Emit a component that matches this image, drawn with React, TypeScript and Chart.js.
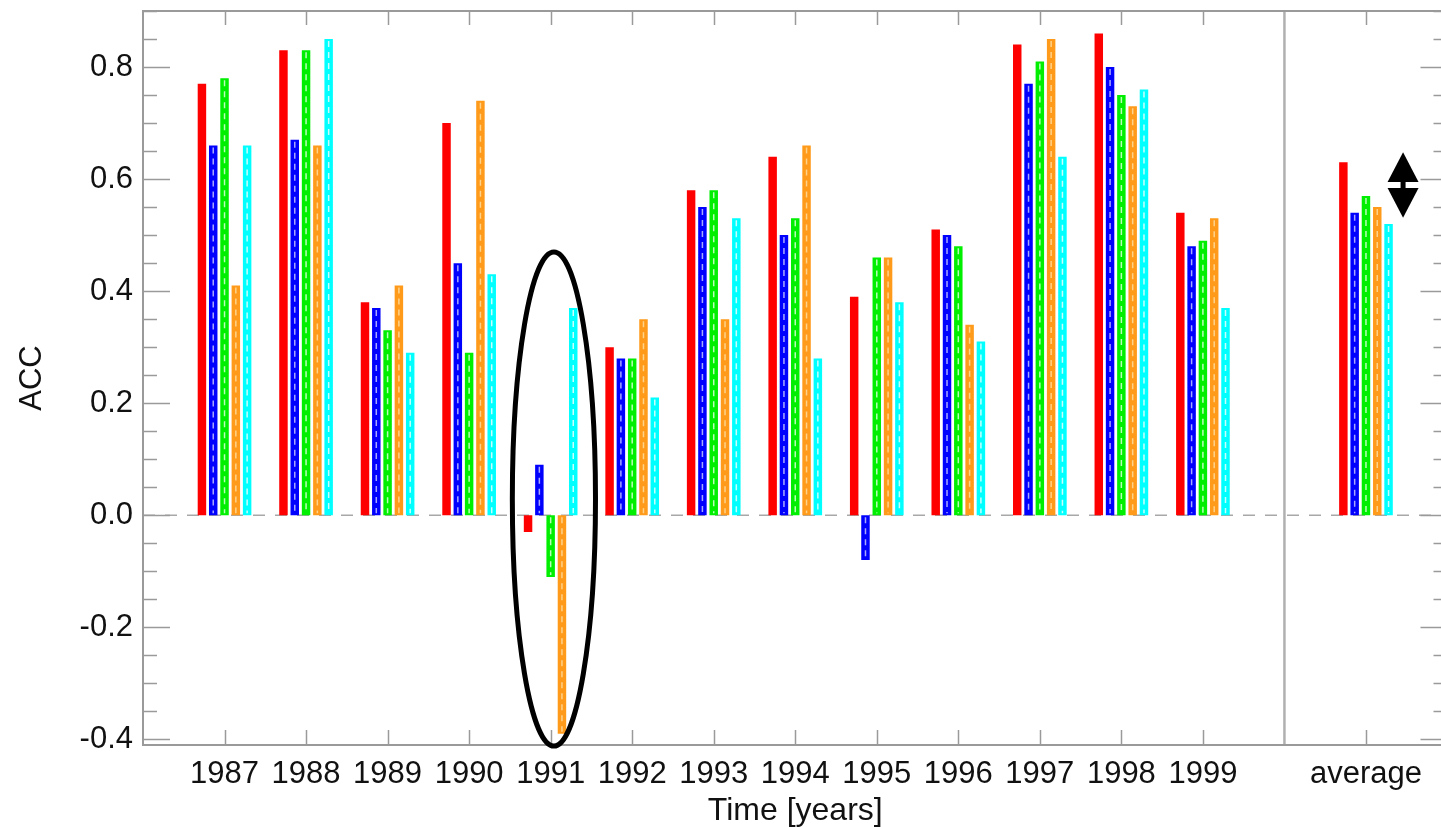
import React, { useEffect, useRef } from "react";
import { Chart, registerables } from "chart.js";

Chart.register(...registerables);

// ---- data ----
const CATEGORIES = ["", "1987", "1988", "1989", "1990", "1991", "1992", "1993", "1994", "1995", "1996", "1997", "1998", "1999", "", "average", ""];

const SERIES_RED = [null, 0.77, 0.83, 0.38, 0.70, -0.03, 0.30, 0.58, 0.64, 0.39, 0.51, 0.84, 0.86, 0.54, null, 0.63, null];
const SERIES_BLUE = [null, 0.66, 0.67, 0.37, 0.45, 0.09, 0.28, 0.55, 0.50, -0.08, 0.50, 0.77, 0.80, 0.48, null, 0.54, null];
const SERIES_GREEN = [null, 0.78, 0.83, 0.33, 0.29, -0.11, 0.28, 0.58, 0.53, 0.46, 0.48, 0.81, 0.75, 0.49, null, 0.57, null];
const SERIES_ORANGE = [null, 0.41, 0.66, 0.41, 0.74, -0.39, 0.35, 0.35, 0.66, 0.46, 0.34, 0.85, 0.73, 0.53, null, 0.55, null];
const SERIES_CYAN = [null, 0.66, 0.85, 0.29, 0.43, 0.37, 0.21, 0.53, 0.28, 0.38, 0.31, 0.64, 0.76, 0.37, null, 0.52, null];

const Y_TICKS = [-0.4, -0.2, 0.0, 0.2, 0.4, 0.6, 0.8];
const Y_MIN = -0.41;
const Y_MAX = 0.9;
const Y_MINOR_STEP = 0.05;

const SEPARATOR_INDEX = 14;
const X_TICK_INDICES = [1, 2, 3, 4, 5, 6, 7, 8, 9, 10, 11, 12, 13, 15];

// annotation (data coordinates)
const ELLIPSE_CENTER_X = 5.04;
const ELLIPSE_HALF_WIDTH = 0.51;
const ELLIPSE_TOP = 0.47;
const ELLIPSE_BOTTOM = -0.412;
const ARROW_X = 15.455;
const ARROW_HALF_WIDTH = 0.19;
const ARROW_UP = [0.648, 0.595];
const ARROW_DOWN = [0.584, 0.531];

// ---- styles ----
const COLORS = ["#ff0000", "#0000ff", "#00ee00", "#ff9a1a", "#00ffff"];
const INNER = [null, "#a8a8ff", "#b8ffb8", "#ffd28a", "#c8ffff"];
const AXIS_COLOR = "#9a9a9a";
const FONT = "'Liberation Sans', Arial, Helvetica, sans-serif";

const decorPlugin = {
  id: "decor",
  beforeDatasetsDraw(chart: any) {
    const { ctx, chartArea: a, scales } = chart;
    const x = scales.x;
    const y = scales.y;
    ctx.save();
    // zero dashed line
    ctx.strokeStyle = "#a8a8a8";
    ctx.lineWidth = 1.5;
    ctx.setLineDash([12, 10]);
    const y0 = y.getPixelForValue(0);
    ctx.beginPath();
    ctx.moveTo(a.left, y0);
    ctx.lineTo(a.right, y0);
    ctx.stroke();
    ctx.setLineDash([]);
    // separator
    const xs = x.getPixelForValue(SEPARATOR_INDEX);
    ctx.strokeStyle = "#b0b0b0";
    ctx.lineWidth = 2.5;
    ctx.beginPath();
    ctx.moveTo(xs, a.top);
    ctx.lineTo(xs, a.bottom);
    ctx.stroke();
    ctx.restore();
  },
  afterDatasetsDraw(chart: any) {
    const { ctx, chartArea: a, scales } = chart;
    const x = scales.x;
    const y = scales.y;
    ctx.save();
    // inner dashed lines in bars
    chart.data.datasets.forEach((ds: any, i: number) => {
      const c = INNER[i];
      if (!c) return;
      const meta = chart.getDatasetMeta(i);
      ctx.strokeStyle = c;
      ctx.lineWidth = 1.5;
      ctx.setLineDash([6, 5]);
      meta.data.forEach((el: any, j: number) => {
        if (ds.data[j] == null) return;
        const p = el.getProps(["x", "y", "base"], true);
        const top = Math.min(p.y, p.base) + 2;
        const bot = Math.max(p.y, p.base) - 2;
        if (bot - top < 3) return;
        ctx.beginPath();
        ctx.moveTo(p.x, top);
        ctx.lineTo(p.x, bot);
        ctx.stroke();
      });
    });
    ctx.setLineDash([]);

    // frame
    ctx.strokeStyle = AXIS_COLOR;
    ctx.lineWidth = 2;
    ctx.strokeRect(a.left, a.top, a.right - a.left, a.bottom - a.top);

    // y ticks (left & right)
    ctx.lineWidth = 1.5;
    const nMinor = Math.round((Y_MAX - Y_TICKS[0]) / Y_MINOR_STEP);
    for (let k = 0; k <= nMinor; k++) {
      const v = Y_TICKS[0] + k * Y_MINOR_STEP;
      const py = Math.round(y.getPixelForValue(v)) + 0.5;
      const major = Y_TICKS.some((t) => Math.abs(t - v) < 1e-6);
      const len = major ? 27 : 14;
      ctx.beginPath();
      ctx.moveTo(a.left, py);
      ctx.lineTo(a.left + len, py);
      ctx.moveTo(a.right, py);
      ctx.lineTo(a.right - len, py);
      ctx.stroke();
    }
    // x ticks (top & bottom)
    X_TICK_INDICES.forEach((i) => {
      const px = Math.round(x.getPixelForValue(i)) + 0.5;
      ctx.beginPath();
      ctx.moveTo(px, a.top);
      ctx.lineTo(px, a.top + 14);
      ctx.moveTo(px, a.bottom);
      ctx.lineTo(px, a.bottom - 15);
      ctx.stroke();
    });

    // ellipse annotation
    const cx = x.getPixelForValue(ELLIPSE_CENTER_X);
    const rx = x.getPixelForValue(ELLIPSE_CENTER_X + ELLIPSE_HALF_WIDTH) - cx;
    const yt = y.getPixelForValue(ELLIPSE_TOP);
    const yb = y.getPixelForValue(ELLIPSE_BOTTOM);
    ctx.strokeStyle = "#000";
    ctx.lineWidth = 5;
    ctx.beginPath();
    ctx.ellipse(cx, (yt + yb) / 2, rx, (yb - yt) / 2, 0, 0, Math.PI * 2);
    ctx.stroke();

    // double arrow annotation
    const ax = x.getPixelForValue(ARROW_X);
    const hw = x.getPixelForValue(ARROW_X + ARROW_HALF_WIDTH) - ax;
    const u0 = y.getPixelForValue(ARROW_UP[0]);
    const u1 = y.getPixelForValue(ARROW_UP[1]);
    const d0 = y.getPixelForValue(ARROW_DOWN[0]);
    const d1 = y.getPixelForValue(ARROW_DOWN[1]);
    ctx.fillStyle = "#000";
    ctx.beginPath();
    ctx.moveTo(ax, u0);
    ctx.lineTo(ax + hw, u1);
    ctx.lineTo(ax - hw, u1);
    ctx.closePath();
    ctx.fill();
    ctx.beginPath();
    ctx.moveTo(ax, d1);
    ctx.lineTo(ax + hw, d0);
    ctx.lineTo(ax - hw, d0);
    ctx.closePath();
    ctx.fill();
    ctx.fillRect(ax - 2.5, u1, 5, d0 - u1);
    ctx.restore();
  },
};

export default function App() {
  const ref = useRef<HTMLCanvasElement | null>(null);

  useEffect(() => {
    if (!ref.current) return;
    const series = [SERIES_RED, SERIES_BLUE, SERIES_GREEN, SERIES_ORANGE, SERIES_CYAN];
    const chart = new Chart(ref.current, {
      type: "bar",
      data: {
        labels: CATEGORIES,
        datasets: series.map((d, i) => ({
          label: `s${i}`,
          data: d,
          backgroundColor: COLORS[i],
          borderColor: COLORS[i],
          borderWidth: 0,
          categoryPercentage: 0.693,
          barPercentage: 0.75,
        })),
      },
      options: {
        responsive: false,
        animation: false,
        devicePixelRatio: 1,
        layout: { padding: { top: 11, right: 12.5, left: 0, bottom: 0 } },
        plugins: { legend: { display: false }, tooltip: { enabled: false } },
        scales: {
          x: {
            type: "category",
            offset: false,
            grid: { display: false, drawTicks: false },
            border: { display: false },
            ticks: {
              autoSkip: false,
              maxRotation: 0,
              minRotation: 0,
              padding: 11,
              color: "#111",
              font: { family: FONT, size: 31 },
            },
            title: {
              display: true,
              text: "Time [years]",
              color: "#111",
              font: { family: FONT, size: 32, lineHeight: 1 },
              padding: { top: 0, bottom: 0 },
            },
            afterFit: (s: any) => {
              s.height = 82;
              s.paddingLeft = 0;
              s.paddingRight = 0;
            },
          },
          y: {
            min: Y_MIN,
            max: Y_MAX,
            grid: { display: false, drawTicks: false },
            border: { display: false },
            afterBuildTicks: (s: any) => {
              s.ticks = Y_TICKS.map((v) => ({ value: v }));
            },
            ticks: {
              padding: 10,
              color: "#111",
              font: { family: FONT, size: 31 },
              callback: (v: any) => Number(v).toFixed(1),
            },
            title: {
              display: true,
              text: "ACC",
              color: "#111",
              font: { family: FONT, size: 31, lineHeight: 1.2 },
              padding: { top: 14, bottom: 0 },
            },
            afterFit: (s: any) => {
              s.width = 143;
              s.paddingTop = 0;
              s.paddingBottom = 0;
            },
          },
        },
      },
      plugins: [decorPlugin],
    } as any);
    return () => chart.destroy();
  }, []);

  return (
    <div style={{ position: "fixed", left: 0, top: 0, width: 1441, height: 827, overflow: "hidden", background: "#fff" }}>
      <canvas ref={ref} width={1460} height={827} style={{ display: "block" }} />
    </div>
  );
}
